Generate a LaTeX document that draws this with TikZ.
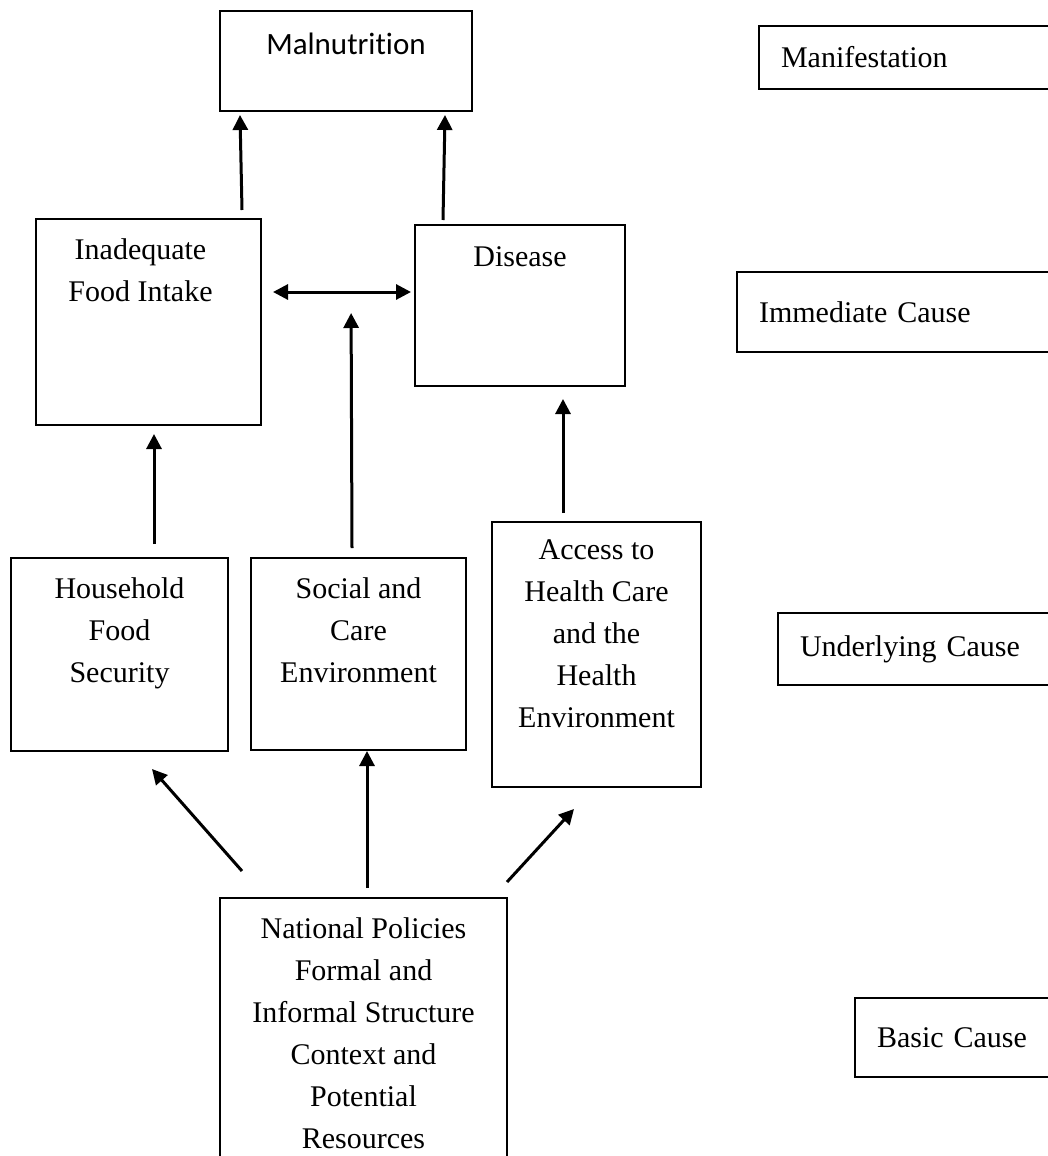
\documentclass[tikz,border=0pt]{standalone}
\usepackage{tikz}
\usepackage{fontspec}
\setmainfont{Liberation Serif}
\newfontfamily\calibrifont[Ligatures=NoCommon]{Carlito}
\usetikzlibrary{calc,positioning,arrows.meta}
\tikzstyle{l1}=[line width=1pt]
\tikzstyle{box}=[rectangle, draw=black, l1, inner sep=0pt, anchor=north west]
\tikzstyle{txt}=[inner sep=0pt, align=center, font=\fontsize{15}{21}\selectfont]
\tikzstyle{lvl}=[rectangle, draw=black, l1, anchor=west, inner xsep=11pt, inner ysep=0pt, text width=170pt, align=left, font=\fontsize{15}{21}\selectfont]
\tikzstyle{arr}=[line width=1.5pt, -{Triangle[length=7.5pt,width=7.5pt]}]
\tikzstyle{darr}=[line width=1.5pt, {Triangle[length=7.5pt,width=7.5pt]}-{Triangle[length=7.5pt,width=7.5pt]}]

\begin{document}
\begin{tikzpicture}[x=0.5pt, y=-0.5pt]
    \useasboundingbox (0,0) rectangle (1048,1156);
    % causes
    \node[box, minimum width=126pt, minimum height=50pt] at (219,10) (mal) {};
    \node[box, minimum width=112.5pt, minimum height=103pt] at (35,218) (ifi) {};
    \node[box, minimum width=105pt, minimum height=80.5pt] at (414,224) (dis) {};
    \node[box, minimum width=108.5pt, minimum height=96.5pt] at (10,557) (hfs) {};
    \node[box, minimum width=107.5pt, minimum height=96pt] at (250,557) (sce) {};
    \node[box, minimum width=104.5pt, minimum height=132.5pt] at (491,521) (ahc) {};
    \node[box, minimum width=143.5pt, minimum height=150pt] at (219,897) (npo) {};

    \node[txt, font=\calibrifont\fontsize{15.5}{19}\selectfont, below=11.5pt of mal.north] (mal-t) {Malnutrition};
    \node[txt, below=10pt of ifi.north, xshift=-4pt] (ifi-t) {Inadequate\\Food Intake};
    \node[txt, below=11pt of dis.north] (dis-t) {Disease};
    \node[txt, below=10pt of hfs.north] (hfs-t) {Household\\Food\\Security};
    \node[txt, below=10pt of sce.north] (sce-t) {Social and\\Care\\Environment};
    \node[txt, below=9pt of ahc.north] (ahc-t) {Access to\\Health Care\\and the\\Health\\Environment};
    \node[txt, below=10pt of npo.north] (npo-t) {National Policies\\Formal and\\Informal Structure\\Context and\\Potential\\Resources};

    % levels
    \node[lvl, minimum height=31.5pt] at (758,57.5) (man) {Manifestation};
    \node[lvl, minimum height=40pt] at (736,312) (imc) {Immediate Cause};
    \node[lvl, minimum height=36pt] at (777,649) (unc) {Underlying Cause};
    \node[lvl, minimum height=39.5pt] at (854,1037.5) (bac) {Basic Cause};

    \coordinate (link) at (351,291);

    \draw[arr] ($(ifi.north east)+(-20,-8)$) -- ($(mal.south west)+(21,3)$);
    \draw[arr] ($(dis.north west)+(29,-4)$) -- ($(mal.south east)+(-28,3)$);
    \draw[darr] ($(ifi.east)+(11,-30)$) -- ($(dis.west)+(-3,-13.5)$);
    \draw[arr, shorten >=11pt] ($(sce.north)+(-6.5,-9)$) -- (link);
    \draw[arr] ($(hfs.north west)+(144,-13)$) -- ($(ifi.south west)+(119,8)$);
    \draw[arr] ($(ahc.north west)+(72,-8)$) -- ($(dis.south west)+(149,12)$);
    \draw[arr] ($(npo.north west)+(23,-26)$) -- ($(hfs.south west)+(142,17)$);
    \draw[arr] ($(npo.north west)+(148,-9)$) -- ($(sce.south west)+(117,0)$);
    \draw[arr] ($(npo.north east)+(-1,-15)$) -- ($(ahc.south west)+(83,21)$);
\end{tikzpicture}
\end{document}
